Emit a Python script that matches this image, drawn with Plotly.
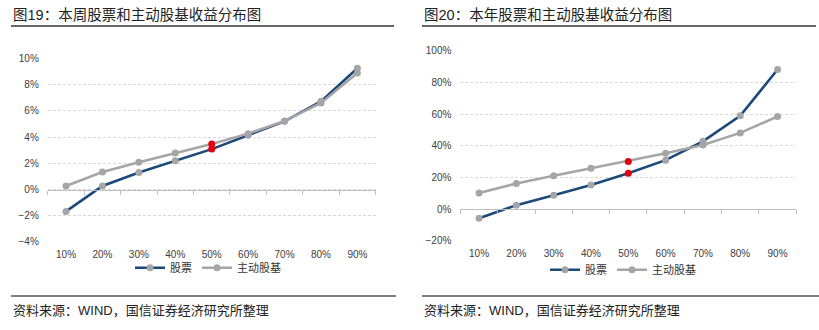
import plotly.graph_objects as go

cats = ["10%", "20%", "30%", "40%", "50%", "60%", "70%", "80%", "90%"]
week_stock = [-1.67, 0.27, 1.30, 2.19, 3.08, 4.14, 5.20, 6.72, 9.25]
week_fund = [0.27, 1.33, 2.07, 2.78, 3.47, 4.26, 5.22, 6.60, 8.89]
year_stock = [-5.7, 2.6, 8.8, 15.3, 22.7, 31.0, 42.9, 59.0, 88.2]
year_fund = [10.2, 16.3, 21.2, 25.9, 30.2, 35.3, 40.6, 48.2, 58.6]
names = ["股票", "主动股基"]
titles = ["图19：本周股票和主动股基收益分布图", "图20：本年股票和主动股基收益分布图"]
source = "资料来源：WIND，国信证券经济研究所整理"

W, H = 819, 330
BLUE = "#1B4A7A"
GRAY = "#A5A5A5"
RED = "#E3000F"
FONT = "Liberation Sans, Noto Sans CJK SC, sans-serif"

def px(x):
    return x / W

def py(y):
    return (H - y) / H

marker_colors = [RED if c == "50%" else GRAY for c in cats]

fig = go.Figure()

panels = [
    dict(stock=week_stock, fund=week_fund, xd=[px(47.8), px(375.6)], yd=[py(244.4), py(55)],
         rng=[-4, 10], dt=2, legend="legend", xa="x", ya="y", xz="x3"),
    dict(stock=year_stock, fund=year_fund, xd=[px(460.4), px(796.2)], yd=[py(243.3), py(47.3)],
         rng=[-20, 100], dt=20, legend="legend2", xa="x2", ya="y2", xz="x4"),
]

for p in panels:
    for vals, col, nm in [(p["stock"], BLUE, names[0]), (p["fund"], GRAY, names[1])]:
        fig.add_trace(go.Scatter(
            x=cats, y=vals, name=nm, mode="lines+markers",
            line=dict(color=col, width=2.6),
            marker=dict(color=marker_colors, size=7, line=dict(width=0)),
            xaxis=p["xa"], yaxis=p["ya"], legend=p["legend"], cliponaxis=False,
        ))
    # invisible trace carrying the zero-line axis
    fig.add_trace(go.Scatter(
        x=cats, y=p["stock"], mode="lines", line=dict(width=0), opacity=0,
        showlegend=False, hoverinfo="skip", xaxis=p["xz"], yaxis=p["ya"],
    ))

axis_font = dict(family=FONT, size=10, color="#404040")

def ylayout(p):
    return dict(domain=p["yd"], range=p["rng"], dtick=p["dt"], ticksuffix="%",
                showgrid=True, gridcolor="#D9D9D9", griddash="3px,2px", gridwidth=1,
                zeroline=False, showline=False, ticks="", tickfont=axis_font,
                ticklabelstandoff=8, fixedrange=True)

def xlayout(p):
    return dict(domain=p["xd"], type="category", categoryarray=cats, range=[-0.5, 8.5],
                showgrid=False, zeroline=False, showline=False, ticks="",
                tickfont=axis_font, ticklabelstandoff=5, fixedrange=True)

def zlayout(p, overlay, ya):
    frac = (0 - p["rng"][0]) / (p["rng"][1] - p["rng"][0])
    pos = p["yd"][0] + frac * (p["yd"][1] - p["yd"][0])
    return dict(domain=p["xd"], type="category", categoryarray=cats, range=[-0.5, 8.5],
                overlaying=overlay, anchor="free", position=pos,
                showgrid=False, zeroline=False, showline=True, linecolor="#BFBFBF",
                linewidth=1, ticks="outside", tickson="boundaries", ticklen=4,
                tickcolor="#BFBFBF", tickwidth=1, showticklabels=False, fixedrange=True)

p1, p2 = panels
fig.update_layout(
    width=W, height=H, margin=dict(l=0, r=0, t=0, b=0),
    paper_bgcolor="white", plot_bgcolor="white",
    font=dict(family=FONT, color="#333333"),
    xaxis=xlayout(p1), yaxis=dict(ylayout(p1), anchor="x"),
    xaxis2=dict(xlayout(p2), anchor="y2"), yaxis2=dict(ylayout(p2), anchor="x2"),
    xaxis3=zlayout(p1, "x", "y"), xaxis4=zlayout(p2, "x2", "y2"),
    legend=dict(orientation="h", x=px(130), y=py(271), xanchor="left", yanchor="middle",
                font=dict(family=FONT, size=11, color="#333333"), bgcolor="rgba(0,0,0,0)",
                itemwidth=30, tracegroupgap=0),
    legend2=dict(orientation="h", x=px(545), y=py(273), xanchor="left", yanchor="middle",
                 font=dict(family=FONT, size=11, color="#333333"), bgcolor="rgba(0,0,0,0)",
                 itemwidth=30, tracegroupgap=0),
    showlegend=True,
)

for x0, x1, title in [(11, 394, titles[0]), (422, 816, titles[1])]:
    fig.add_annotation(text=title, x=px(x0), y=py(10.5), xref="paper", yref="paper",
                       xanchor="left", yanchor="middle", showarrow=False,
                       font=dict(family=FONT, size=14.5, color="#222222"))
    fig.add_shape(type="line", xref="paper", yref="paper", x0=px(x0), x1=px(x1),
                  y0=py(21.7), y1=py(21.7), line=dict(color="#333333", width=1.5))

for x0, x1 in [(11, 396), (422, 819)]:
    fig.add_shape(type="line", xref="paper", yref="paper", x0=px(x0), x1=px(x1),
                  y0=py(300), y1=py(300), line=dict(color="#7F7F7F", width=2))
    fig.add_annotation(text=source, x=px(x0), y=py(315), xref="paper", yref="paper",
                       xanchor="left", yanchor="middle", showarrow=False,
                       font=dict(family=FONT, size=13, color="#222222"))

fig.write_html("out.html")
